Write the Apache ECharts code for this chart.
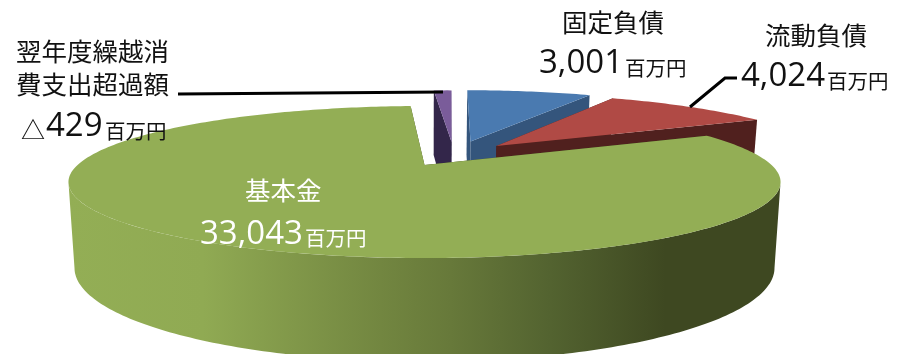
<!DOCTYPE html>
<html>
<head>
<meta charset="utf-8">
<style>html,body{margin:0;padding:0;background:#fff}#chart{width:911px;height:354px}</style>
<script src="https://cdn.jsdelivr.net/npm/echarts@6/dist/echarts.min.js"></script>
</head>
<body>
<div id="chart"></div>
<script>
// 純資産・負債の内訳（単位：百万円）
const categories = ['固定負債', '流動負債', '基本金', '翌年度繰越消費支出超過額'];
const values = [3001, 4024, 33043, -429];
const unit = '百万円';

// Slice appearance, keyed by position in the arrays above
const topColors = ['#4a7ab0', '#b04a45', '#93ae55', '#7a5c9a'];
const sideColors = ['#34557c', '#50201e', '#3e4821', '#33264a'];
const paintOrder = [1, 3, 4, 2];
const explode = [[0.143, 0.35], [0.22, 0.28], [0, 0], [0.084, 0.345]];
const startAngle = 1;

// Tilted-disc projection: unit circle (u right, v away from viewer) onto the page
const disc = { cx: 424.5, cy: 165, a: 347, b: 72.2, k: 0.224, baseY: 247, baseB: 89, baseScale: 0.983 };
function project(u, v, bottom) {
  const s = 1 / (1 + disc.k * v);
  return bottom
    ? [disc.cx + disc.a * disc.baseScale * u * s, disc.baseY - disc.baseB * v * s]
    : [disc.cx + disc.a * u * s, disc.cy - disc.b * v * s];
}

const total = values.reduce((t, v) => t + Math.abs(v), 0);
const spans = [];
values.reduce((acc, v) => {
  const next = acc + Math.abs(v) / total * 360;
  spans.push([acc, next]);
  return next;
}, startAngle);

function rimPoint(deg, off, bottom) {
  const r = deg * Math.PI / 180;
  return project(Math.sin(r) + off[0], Math.cos(r) + off[1], bottom);
}

function arcPoints(from, to, off, bottom) {
  const pts = [];
  const n = Math.max(2, Math.ceil(Math.abs(to - from)));
  for (let i = 0; i <= n; i++) pts.push(rimPoint(from + (to - from) * i / n, off, bottom));
  return pts;
}

// Front wall shading of the large slice runs from lit on the left to dark on the right
const wallFill = new echarts.graphic.LinearGradient(68, 0, 779, 0, [
  { offset: 0, color: '#93ae55' },
  { offset: 0.19, color: '#90aa53' },
  { offset: 0.44, color: '#728640' },
  { offset: 0.538, color: '#67793a' },
  { offset: 0.678, color: '#536330' },
  { offset: 0.84, color: '#3e4821' },
  { offset: 1, color: '#3e4821' }
], true);

function renderSlice(params) {
  const i = params.dataIndex;
  const [a0, a1] = spans[i];
  const off = explode[i];
  const z = paintOrder[i];
  const side = sideColors[i];
  const apexT = project(off[0], off[1], false);
  const apexB = project(off[0], off[1], true);
  const poly = (points, fill) => ({
    type: 'polygon', z2: z, shape: { points }, style: { fill, stroke: null }
  });
  const children = [
    poly([apexT, rimPoint(a0, off, false), rimPoint(a0, off, true), apexB], side),
    poly([apexT, rimPoint(a1, off, false), rimPoint(a1, off, true), apexB], side)
  ];
  // Outer wall is only seen on the part of the rim facing the viewer
  const from = Math.max(a0, 103), to = Math.min(a1, 257);
  if (to > from) {
    const top = arcPoints(from, to, off, false);
    const base = arcPoints(from, to, off, true).reverse();
    children.push(poly(top.concat(base), wallFill));
  }
  children.push(poly([apexT].concat(arcPoints(a0, a1, off, false)), topColors[i]));
  return { type: 'group', children };
}

const CJK = '"Noto Sans CJK JP"';
const NUM = '"Open Sans"';
function txt(text, x, y, size, family, fill) {
  return {
    type: 'text', x, y, z: 10, silent: true,
    style: { text, fill, font: size + 'px ' + family, align: 'left', verticalAlign: 'middle' }
  };
}
function amount(i, x, y, unitX, unitY, fill) {
  return [
    txt(Math.abs(values[i]).toLocaleString('en-US'), x, y, 33, NUM, fill),
    txt(unit, unitX, unitY, 20.5, CJK, fill)
  ];
}

const graphics = [
  txt(categories[0], 562, 22, 25.5, CJK, '#111'),
  ...amount(0, 539, 64, 625, 68, '#111'),
  txt(categories[1], 765, 35, 25.5, CJK, '#111'),
  ...amount(1, 741, 77, 827, 81, '#111'),
  txt(categories[2], 245, 190, 25.5, CJK, '#fff'),
  ...amount(2, 200, 235, 305, 238, '#fff'),
  txt(categories[3].slice(0, 6), 16, 51, 25.5, CJK, '#111'),
  txt(categories[3].slice(6), 16, 84, 25.5, CJK, '#111'),
  txt(values[3] < 0 ? '△' : '', 21, 130, 24, CJK, '#111'),
  ...amount(3, 46, 127, 105, 131, '#111'),
  { type: 'polyline', z: 9, silent: true, shape: { points: [[178, 94], [443, 92]] }, style: { stroke: '#000', lineWidth: 3, fill: null } },
  { type: 'polyline', z: 9, silent: true, shape: { points: [[690, 107], [725, 78], [737, 78]] }, style: { stroke: '#000', lineWidth: 3, fill: null } }
];

const chart = echarts.init(document.getElementById('chart'), null, { renderer: 'canvas' });
chart.setOption({
  animation: false,
  backgroundColor: '#fff',
  series: [{
    type: 'custom',
    coordinateSystem: 'none',
    silent: true,
    renderItem: renderSlice,
    data: values.map((v, i) => ({ name: categories[i], value: Math.abs(v) }))
  }],
  graphic: graphics
});
</script>
</body>
</html>
